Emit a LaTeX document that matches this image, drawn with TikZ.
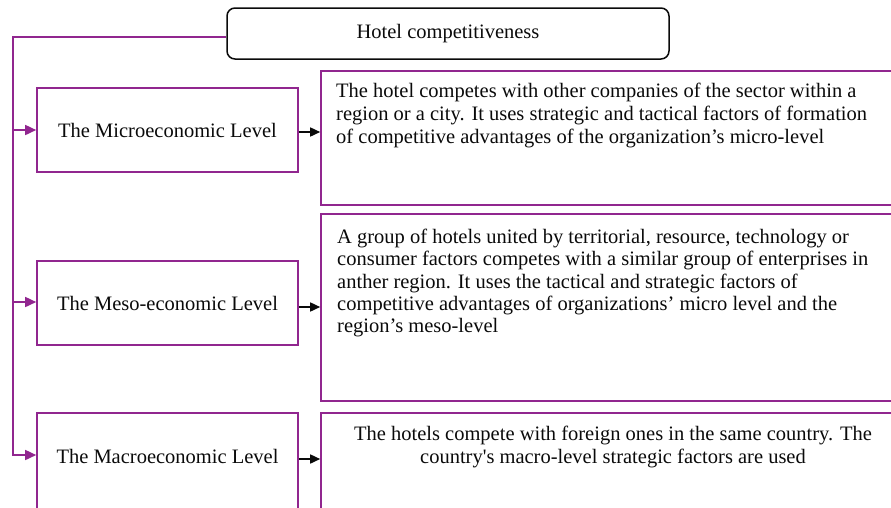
\documentclass[tikz,border=0pt]{standalone}
\usepackage{fontspec}
\setmainfont{Liberation Serif}
\usetikzlibrary{arrows.meta}
\definecolor{plum}{RGB}{145,38,143}
\definecolor{ink}{RGB}{10,10,10}
\begin{document}
\begin{tikzpicture}[x=1pt,y=-1pt,
  every node/.style={font=\fontsize{20.5}{23}\selectfont, text=ink},
  titlebox/.style={draw=ink, line width=1.5pt, rounded corners=8pt,
    minimum width=442pt, minimum height=51pt, inner sep=0pt},
  levelbox/.style={draw=plum, line width=1.6pt, minimum width=261pt,
    minimum height=84pt, inner sep=0pt},
  descbox/.style={draw=plum, line width=1.6pt, inner sep=0pt, minimum width=584pt},
  desctext/.style={align=left, inner sep=0pt, anchor=north west},
  branch/.style={draw=plum, line width=1.6pt, -{Triangle[length=11pt,width=10pt]}},
  link/.style={draw=ink, line width=1.6pt, -{Triangle[length=10pt,width=9pt]}},
]
\useasboundingbox (0,0) rectangle (891,507);
\clip (0,0) rectangle (891,507);

% heading
\node[titlebox] (title) at (448,33.5) {Hotel competitiveness};

% the three levels
\node[levelbox] (lvl1) at (167.5,130) {The Microeconomic Level};
\node[levelbox] (lvl2) at (167.5,303) {The Meso-economic Level};
\node[levelbox, minimum height=107pt, text height=14pt, text depth=21pt]
  (lvl3) at (167.5,466.5) {The Macroeconomic Level};

% description frames
\node[descbox, minimum height=134pt] (desc1) at (613,138) {};
\node[descbox, minimum height=187pt] (desc2) at (613,307.5) {};
\node[descbox, minimum height=117pt] (desc3) at (613,471.5) {};

% description texts
\node[desctext] (txt1) at (336,83) {The hotel competes with other companies of the sector within a\\
region or a city. It uses strategic and tactical factors of formation\\
of competitive advantages of the organization’s micro-level};
\node[desctext, font=\fontsize{20.5}{22.3}\selectfont] (txt2) at (337,229)
  {A group of hotels united by territorial, resource, technology or\\
consumer factors competes with a similar group of enterprises in\\
anther region. It uses the tactical and strategic factors of\\
competitive advantages of organizations’ micro level and the\\
region’s meso-level};
\node[align=center, inner sep=0pt, anchor=north] (txt3) at (613,426)
  {The hotels compete with foreign ones in the same country. The\\
  country\textquotesingle s macro-level strategic factors are used};

% purple trunk and branches
\coordinate (corner) at (13,37);
\coordinate (b1) at (13,130);
\coordinate (b2) at (13,302);
\coordinate (b3) at (13,455);
\draw[branch] ([yshift=-3.5pt]title.west) -- (corner) -- (b3) -- (b3 -| lvl3.west);
\draw[branch] (b1) -- (b1 -| lvl1.west);
\draw[branch] (b2) -- (b2 -| lvl2.west);

% level to description links
\coordinate (a1) at (0,132);
\coordinate (a2) at (0,307);
\coordinate (a3) at (0,459);
\draw[link] (a1 -| lvl1.east) -- (a1 -| desc1.west);
\draw[link] (a2 -| lvl2.east) -- (a2 -| desc2.west);
\draw[link] (a3 -| lvl3.east) -- (a3 -| desc3.west);
\end{tikzpicture}
\end{document}
